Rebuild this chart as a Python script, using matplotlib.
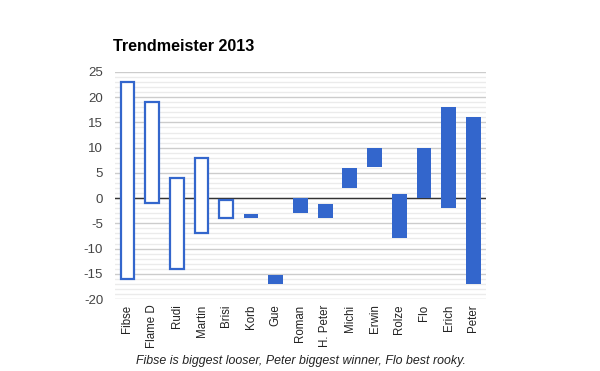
import matplotlib.pyplot as plt
from matplotlib.ticker import MultipleLocator

# players and their range (low / high) for the year
players = ["Fibse", "Flame D", "Rudi", "Martin", "Brisi", "Korb", "Gue", "Roman",
           "H. Peter", "Michi", "Erwin", "Rolze", "Flo", "Erich", "Peter"]
low = [-16, -1, -14, -7, -4, -3.9, -17, -3, -3.9, 2, 6.2, -7.9, 0, -2, -17]
high = [23, 19, 4, 8, -0.3, -3.2, -15.3, 0, -1.2, 6, 10, 0.8, 10, 18, 16]
hollow = [True, True, True, True, True, False, False, False,
          False, False, False, False, False, False, False]

blue = "#3366cc"
plt.rcParams["font.family"] = ["Liberation Sans", "DejaVu Sans"]
plt.rcParams["axes.unicode_minus"] = False

fig = plt.figure(figsize=(6, 3.71), dpi=100)
ax = fig.add_axes([0.1917, 0.194, 0.618, 0.612])

x = list(range(len(players)))
heights = [h - l for h, l in zip(high, low)]
for i in x:
    if hollow[i]:
        ax.bar(i, heights[i], bottom=low[i], width=0.55, color="white",
               edgecolor=blue, linewidth=1.6, zorder=3)
    else:
        ax.bar(i, heights[i], bottom=low[i], width=0.6, color=blue, zorder=3)

ax.set_xlim(-0.5, len(players) - 0.5)
ax.set_ylim(-20, 25)
ax.yaxis.set_major_locator(MultipleLocator(5))
ax.yaxis.set_minor_locator(MultipleLocator(1))
ax.grid(axis="y", which="major", color="#cccccc", linewidth=1, zorder=0)
ax.grid(axis="y", which="minor", color="#ebebeb", linewidth=1, zorder=0)
ax.axhline(0, color="#333333", linewidth=1, zorder=2)
for s in ax.spines.values():
    s.set_visible(False)
ax.tick_params(axis="both", which="both", length=0)
ax.tick_params(axis="y", labelsize=9.5, labelcolor="#444444", pad=8.5)
ax.set_xticks(x)
ax.set_xticklabels(players, rotation=90, fontsize=8.3, color="#222222")
ax.tick_params(axis="x", pad=4)

fig.text(0.188, 0.862, "Trendmeister 2013", fontsize=11.6, fontweight="bold", color="black")
fig.text(0.502, 0.02, "Fibse is biggest looser, Peter biggest winner, Flo best rooky.",
         fontsize=8.9, style="italic", color="#222222", ha="center")

fig.savefig("out.png", dpi=100)
